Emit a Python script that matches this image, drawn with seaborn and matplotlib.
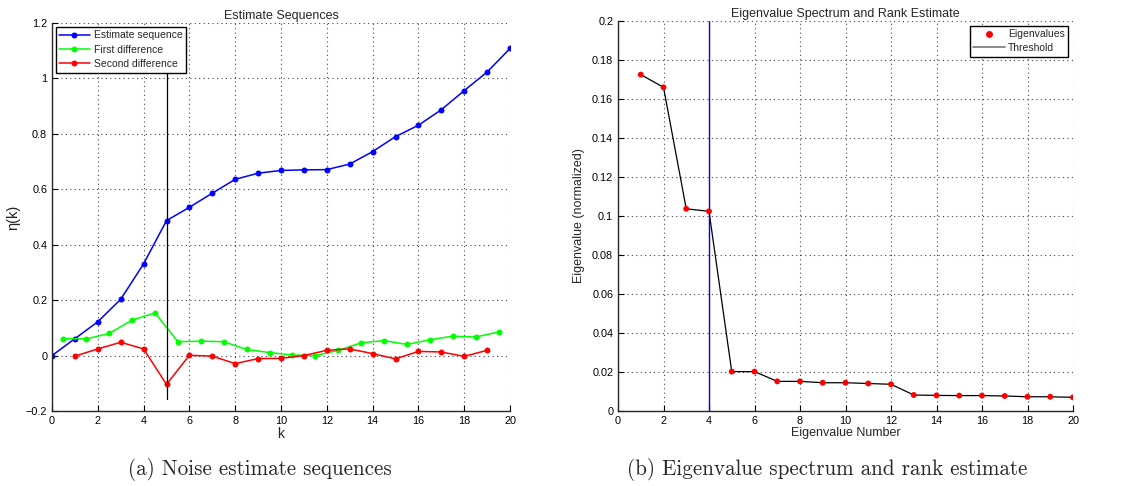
import numpy as np
import pandas as pd
import matplotlib
matplotlib.use("Agg")
import matplotlib.pyplot as plt
from matplotlib.lines import Line2D
from matplotlib.ticker import FuncFormatter
import seaborn as sns

# left panel: noise estimate sequences
k_est = list(range(0, 21))
eta_est = [0.0, 0.061, 0.122, 0.203, 0.331, 0.487, 0.535, 0.586, 0.636, 0.658, 0.668,
           0.670, 0.671, 0.691, 0.736, 0.790, 0.831, 0.887, 0.956, 1.023, 1.108]
k_first = [0.5 + i for i in range(20)]
eta_first = [0.061, 0.060, 0.080, 0.128, 0.154, 0.050, 0.052, 0.050, 0.022, 0.011,
             0.002, 0.000, 0.019, 0.046, 0.054, 0.040, 0.057, 0.070, 0.067, 0.085]
k_second = list(range(1, 20))
eta_second = [-0.002, 0.024, 0.048, 0.024, -0.104, 0.001, -0.002, -0.029, -0.011, -0.010,
              0.000, 0.019, 0.024, 0.007, -0.012, 0.015, 0.013, -0.003, 0.019]
k_marker = 5
marker_span = [-0.157, 1.11]

# right panel: eigenvalue spectrum
eig_num = list(range(1, 21))
eig_val = [0.1725, 0.1660, 0.1037, 0.1024, 0.0202, 0.0202, 0.0152, 0.0152, 0.0145, 0.0145,
           0.0141, 0.0137, 0.0082, 0.0080, 0.0079, 0.0079, 0.0077, 0.0073, 0.0073, 0.0070]
rank_est = 4

sns.set_style("ticks")
plt.rcParams['font.family'] = ['Liberation Sans', 'DejaVu Sans']
plt.rcParams['xtick.direction'] = 'in'
plt.rcParams['ytick.direction'] = 'in'
plt.rcParams['axes.linewidth'] = 1.0

fig = plt.figure(figsize=(11.27, 4.86), dpi=100)
W, H = 1127, 486
ax1 = fig.add_axes([52 / W, 1 - 411 / H, (510 - 52) / W, (411 - 23) / H])
ax2 = fig.add_axes([618 / W, 1 - 411 / H, (1073 - 618) / W, (411 - 21) / H])

fmt = FuncFormatter(lambda v, p: ('%g' % round(v, 4)).replace('-', '\u2212'))


def matlab_axes(ax):
    sns.despine(ax=ax, top=True, right=True)
    ax.grid(True, linestyle=(0, (1, 3)), color='#444444', linewidth=0.8)
    ax.tick_params(labelsize=7.8, length=4, width=0.8, colors='black')
    ax.yaxis.set_major_formatter(fmt)
    ax.xaxis.set_major_formatter(fmt)


# left
est = pd.DataFrame({'k': k_est, 'eta': eta_est})
first = pd.DataFrame({'k': k_first, 'eta': eta_first})
second = pd.DataFrame({'k': k_second, 'eta': eta_second})
sns.lineplot(data=est, x='k', y='eta', ax=ax1, color='#0000ff', marker='o',
             markersize=4.3, markeredgewidth=0, linewidth=1.1, label='Estimate sequence')
sns.lineplot(data=first, x='k', y='eta', ax=ax1, color='#00ff00', marker='o',
             markersize=4.3, markeredgewidth=0, linewidth=1.1, label='First difference')
sns.lineplot(data=second, x='k', y='eta', ax=ax1, color='#ff0000', marker='o',
             markersize=4.3, markeredgewidth=0, linewidth=1.1, label='Second difference')
ax1.plot([k_marker, k_marker], marker_span, color='black', linewidth=0.9)
ax1.set_xlim(0, 20)
ax1.set_ylim(-0.2, 1.2)
ax1.set_xticks(np.arange(0, 21, 2))
ax1.set_yticks(np.arange(-0.2, 1.21, 0.2))
matlab_axes(ax1)
ax1.set_title('Estimate Sequences', fontsize=9, pad=3)
ax1.set_xlabel('k', fontsize=10, labelpad=1)
ax1.set_ylabel('\u03b7(k)', fontsize=10.5, labelpad=4)
leg1 = ax1.legend(loc='upper left', fontsize=7.5, frameon=True, fancybox=False,
                  edgecolor='black', framealpha=1, borderaxespad=0.35,
                  handlelength=2.9, labelspacing=0.42, borderpad=0.35, handletextpad=0.4)
leg1.get_frame().set_linewidth(1.0)

# right
eig = pd.DataFrame({'n': eig_num, 'val': eig_val})
sns.lineplot(data=eig, x='n', y='val', ax=ax2, color='black', linewidth=0.9)
sns.scatterplot(data=eig, x='n', y='val', ax=ax2, color='#ff0000', s=18,
                edgecolor='none', zorder=3)
ax2.axvline(rank_est, color='#0000ff', linewidth=1.0)
ax2.set_xlim(0, 20)
ax2.set_ylim(0, 0.2)
ax2.set_xticks(np.arange(0, 21, 2))
ax2.set_yticks(np.arange(0, 0.201, 0.02))
matlab_axes(ax2)
ax2.set_title('Eigenvalue Spectrum and Rank Estimate', fontsize=9, pad=3)
ax2.set_xlabel('Eigenvalue Number', fontsize=9, labelpad=1)
ax2.set_ylabel('Eigenvalue (normalized)', fontsize=9, labelpad=5)
handles = [Line2D([], [], color='#ff0000', marker='o', linestyle='none', markersize=4),
           Line2D([], [], color='#777777', linewidth=1.2)]
leg2 = ax2.legend(handles, ['Eigenvalues', 'Threshold'], loc='upper right', fontsize=7.5,
                  frameon=True, fancybox=False, edgecolor='black', framealpha=1,
                  borderaxespad=0.45, handlelength=3.0, labelspacing=0.35, borderpad=0.35,
                  handletextpad=0.3)
leg2.get_frame().set_linewidth(1.0)

# captions
fig.text(260 / W, 1 - 469 / H, '(a) Noise estimate sequences', ha='center', va='center',
         fontsize=15.2, family='cmr10')
fig.text(827 / W, 1 - 469 / H, '(b) Eigenvalue spectrum and rank estimate', ha='center',
         va='center', fontsize=15.2, family='cmr10')

fig.savefig('out.png', dpi=100)
